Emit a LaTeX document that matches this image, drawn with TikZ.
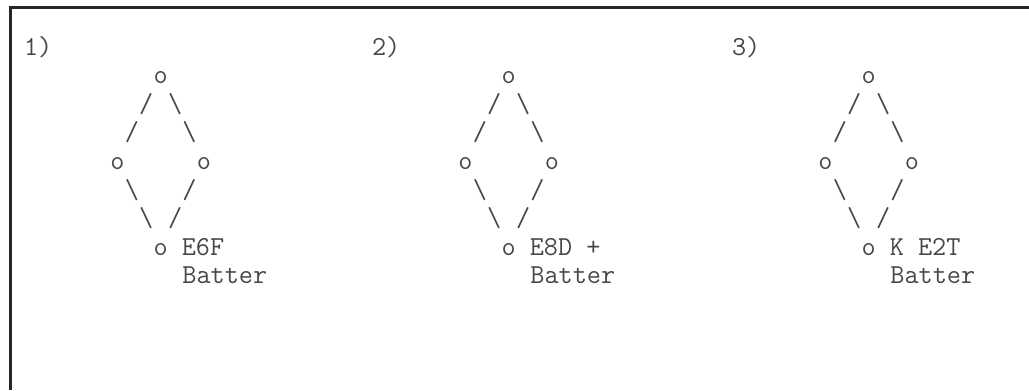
\documentclass[tikz,border=0pt]{standalone}
\usepackage{fontspec}
\begin{document}
\begin{tikzpicture}[x=0.75pt,y=-0.75pt,
  t/.style={inner sep=0pt, outer sep=0pt, anchor=base west,
    font=\ttfamily\fontsize{20.57}{24}\selectfont, text=black!72},
  frame/.style={line width=2pt, draw=black!85}]
\useasboundingbox (0,0) rectangle (1029,390);
\draw[frame] (10.3,390) -- (10.3,7.3) -- (1029,7.3);
\def\cw{14.4}
\def\rh{28.6}
\def\by{55}
\foreach \p/\px/\lab/\tail in {1/24/1)/E6F, 2/372/2)/E8D +, 3/732/3)/K E2T}{
  \node[t] (lab\p) at ({\px+0*\cw},{\by+0*\rh}) {\lab};
  \node[t] (top\p) at ({\px+9*\cw},{\by+1*\rh}) {o};
  \node[t] (ul\p) at ({\px+8*\cw},{\by+2*\rh}) {/};
  \node[t] (ur\p) at ({\px+10*\cw},{\by+2*\rh}) {\textbackslash};
  \node[t] (ul2\p) at ({\px+7*\cw},{\by+3*\rh}) {/};
  \node[t] (ur2\p) at ({\px+11*\cw},{\by+3*\rh}) {\textbackslash};
  \node[t] (left\p) at ({\px+6*\cw},{\by+4*\rh}) {o};
  \node[t] (right\p) at ({\px+12*\cw},{\by+4*\rh}) {o};
  \node[t] (ll\p) at ({\px+7*\cw},{\by+5*\rh}) {\textbackslash};
  \node[t] (lr\p) at ({\px+11*\cw},{\by+5*\rh}) {/};
  \node[t] (ll2\p) at ({\px+8*\cw},{\by+6*\rh}) {\textbackslash};
  \node[t] (lr2\p) at ({\px+10*\cw},{\by+6*\rh}) {/};
  \node[t] (bot\p) at ({\px+9*\cw},{\by+7*\rh}) {o \tail};
  \node[t] (bat\p) at ({\px+11*\cw},{\by+8*\rh}) {Batter};
}
\end{tikzpicture}
\end{document}
